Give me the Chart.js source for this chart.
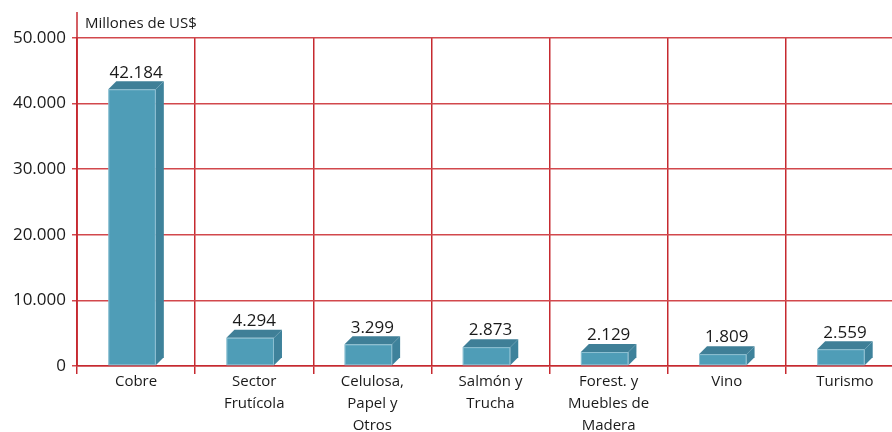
<!DOCTYPE html>
<html>
<head>
<meta charset="utf-8">
<script src="https://cdn.jsdelivr.net/npm/chart.js@4/dist/chart.umd.min.js"></script>
<style>
  body { margin: 0; overflow: hidden; background: #fff; }
</style>
</head>
<body>
<canvas id="canvas" width="904" height="432"></canvas>
<script>
const categories = [
  'Cobre',
  ['Sector', 'Frutícola'],
  ['Celulosa,', 'Papel y', 'Otros'],
  ['Salmón y', 'Trucha'],
  ['Forest. y', 'Muebles de', 'Madera'],
  'Vino',
  'Turismo'
];
const exports = [42184, 4294, 3299, 2873, 2129, 1809, 2559];
const yTicks = [0, 10000, 20000, 30000, 40000, 50000];
const unitLabel = 'Millones de US$';

const gridRed = '#c62a30';
const depth = 8;

function fmt(v) {
  return v.toString().replace(/\B(?=(\d{3})+(?!\d))/g, '.');
}

// draws the 3d boxes and value labels from the bar elements
const boxes = {
  id: 'boxes',
  afterDatasetsDraw(chart) {
    const ctx = chart.ctx;
    const meta = chart.getDatasetMeta(0);
    ctx.save();
    meta.data.forEach(function(bar, i) {
      const left = bar.x - bar.width / 2;
      const fw = bar.width - depth;
      const top = bar.y;
      const base = bar.base;
      // front
      ctx.fillStyle = '#4f9db7';
      ctx.fillRect(left, top, fw, base - top);
      // top face
      ctx.fillStyle = '#3f7f97';
      ctx.beginPath();
      ctx.moveTo(left, top);
      ctx.lineTo(left + depth, top - depth);
      ctx.lineTo(left + fw + depth, top - depth);
      ctx.lineTo(left + fw, top);
      ctx.closePath();
      ctx.fill();
      // side face
      ctx.fillStyle = '#3e829b';
      ctx.beginPath();
      ctx.moveTo(left + fw, top);
      ctx.lineTo(left + fw + depth, top - depth);
      ctx.lineTo(left + fw + depth, base - depth);
      ctx.lineTo(left + fw, base);
      ctx.closePath();
      ctx.fill();
      // faint edges
      ctx.strokeStyle = 'rgba(180,215,228,0.6)';
      ctx.lineWidth = 1;
      ctx.strokeRect(left + 0.5, top + 0.5, fw - 1, base - top - 1);
      // value
      ctx.fillStyle = '#1a1a1a';
      ctx.font = '17px "Open Sans"';
      ctx.textAlign = 'center';
      ctx.textBaseline = 'bottom';
      ctx.fillText(fmt(exports[i]), left + bar.width / 2, top - depth);
    });
    ctx.restore();
  },
  afterDraw(chart) {
    const ctx = chart.ctx;
    const area = chart.chartArea;
    ctx.save();
    // axis line extends above the plot
    ctx.strokeStyle = gridRed;
    ctx.lineWidth = 1.5;
    ctx.beginPath();
    ctx.moveTo(area.left, 12);
    ctx.lineTo(area.left, area.bottom);
    ctx.stroke();
    ctx.fillStyle = '#1a1a1a';
    ctx.font = '15px "Open Sans"';
    ctx.textAlign = 'left';
    ctx.textBaseline = 'middle';
    ctx.fillText(unitLabel, area.left + 8, 24);
    ctx.restore();
  }
};

const ctx = document.getElementById('canvas').getContext('2d');
const myChart = new Chart(ctx, {
  type: 'bar',
  data: {
    labels: categories,
    datasets: [{
      data: exports,
      backgroundColor: 'rgba(0,0,0,0)',
      barPercentage: 0.47,
      categoryPercentage: 1
    }]
  },
  options: {
    responsive: false,
    animation: false,
    layout: {
      padding: { top: 38, left: 0, right: 0, bottom: 0 }
    },
    scales: {
      x: {
        afterFit: function(scale) { scale.height = 66; },
        grid: {
          color: gridRed,
          lineWidth: 1.5,
          tickLength: 8,
          offset: true
        },
        border: { color: gridRed, width: 1.5 },
        ticks: {
          color: '#1a1a1a',
          font: { family: 'Open Sans', size: 15, lineHeight: 1.45 },
          padding: -3,
          maxRotation: 0,
          autoSkip: false
        }
      },
      y: {
        min: 0,
        max: 50000,
        afterFit: function(scale) { scale.width = 77; },
        afterBuildTicks: function(scale) {
          scale.ticks = yTicks.map(function(v) { return { value: v }; });
        },
        grid: {
          color: '#d2484d',
          lineWidth: 1.5,
          tickLength: 5
        },
        border: { color: gridRed, width: 1.5 },
        ticks: {
          color: '#1a1a1a',
          font: { family: 'Open Sans', size: 17 },
          padding: 6,
          callback: function(v) { return fmt(v); }
        }
      }
    },
    plugins: {
      legend: { display: false },
      tooltip: { enabled: false }
    }
  },
  plugins: [boxes]
});
</script>
</body>
</html>
